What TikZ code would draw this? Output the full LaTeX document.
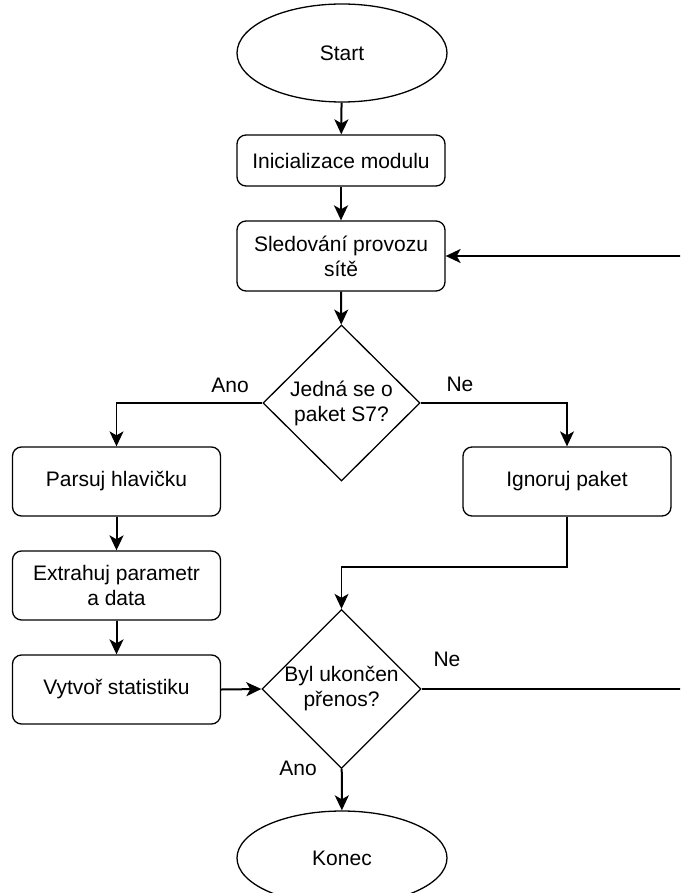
\documentclass[tikz,border=0pt]{standalone}
\usepackage{fontspec}
\setmainfont{Liberation Sans}
\usetikzlibrary{shapes.geometric,arrows.meta}

\begin{document}
\begin{tikzpicture}[x=1pt,y=-1pt,
    every node/.style={font=\fontsize{21}{25}\selectfont},
    box/.style={draw, line width=1.3pt, rounded corners=9pt, minimum width=208pt, align=center, inner sep=0pt},
    term/.style={draw, ellipse, line width=1.3pt, minimum width=210pt, minimum height=98pt},
    decide/.style={draw, diamond, line width=1.3pt, minimum width=157pt, minimum height=156pt, inner sep=0pt, align=center},
    flow/.style={-{Stealth[length=15pt,width=14pt,inset=4pt]}, line width=2pt},
    branch/.style={-{Stealth[length=15pt,width=14pt,inset=4pt]}, line width=1.3pt}]

        % Picture frame
        \clip (0,0) rectangle (680,893);

        % Main column
        \node[term] (start) at (342,53) {Start};
        \node[box, minimum height=51pt] (init) at (341,160.5) {Inicializace modulu};
        \node[box, minimum height=70pt] (watch) at (341,256) {Sledování provozu\\sítě};
        \node[decide] (isS7) at (341.5,403) {Jedná se o\\paket S7?};

        % Left branch
        \node[box, minimum height=69pt] (parse) at (116.5,481.5) {Parsuj hlavičku};
        \node[box, minimum height=69pt] (extract) at (116.5,585.5) {Extrahuj parametr\\a data};
        \node[box, minimum height=69pt] (stats) at (116.5,689.5) {Vytvoř statistiku};

        % Right branch
        \node[box, minimum height=69pt] (ignore) at (567,481.5) {Ignoruj paket};

        % End of transfer
        \node[decide] (isEnd) at (341.5,689) {Byl ukončen\\přenos?};
        \node[term, minimum height=94pt] (stop) at (342,858) {Konec};

        % Connectors
        \draw[flow] (start) -- (init);
        \draw[flow] (init) -- (watch);
        \draw[flow] (watch) -- (isS7);
        \draw[branch] (isS7.west) -| (parse.north);
        \draw[branch] (isS7.east) -| (ignore.north);
        \draw[flow] (parse) -- (extract);
        \draw[flow] (extract) -- (stats);
        \coordinate (join) at (567,567);
        \draw[branch] (ignore.south) -- (join) -| (isEnd.north);
        \draw[flow] (stats.east) -- (isEnd.west);
        \draw[flow] (isEnd) -- (stop);

        % Loop back
        \coordinate (backLow) at (686,689);
        \coordinate (backHigh) at (686,256);
        \draw[line width=1.3pt] (isEnd.east) -- (backLow);
        \draw[flow] (backLow) -- (backHigh) -- (watch.east);

        % Branch labels
        \node (yes1) at (230,385) {Ano};
        \node (no1) at (460,384) {Ne};
        \node (no2) at (447,659) {Ne};
        \node (yes2) at (298,768) {Ano};
    \end{tikzpicture}
\end{document}
